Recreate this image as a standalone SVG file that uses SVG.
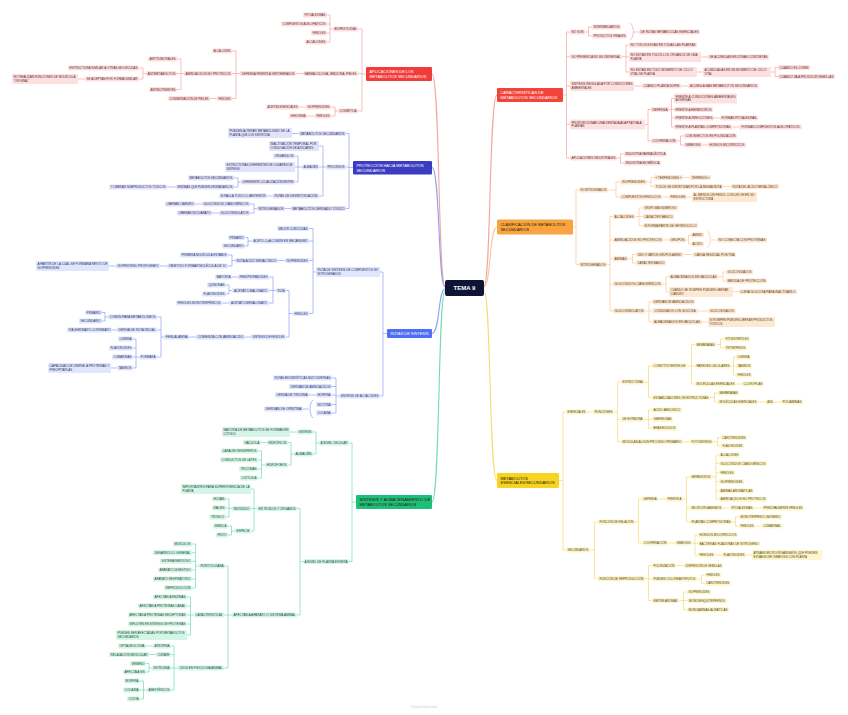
<svg xmlns="http://www.w3.org/2000/svg" width="848" height="715" viewBox="0 0 848 715">
<style>
text{font-family:"Liberation Sans",Arial,sans-serif;font-size:2.9px}
.n text{text-anchor:middle}
.n.l text{text-anchor:start}
rect{rx:1.2px}
.r rect{fill:#fde1e1}.r text{fill:#5e1f1f}
.p rect{fill:#e2e3f8}.p text{fill:#2a2a62}
.b rect{fill:#e0e6fc}.b text{fill:#22306b}
.g rect{fill:#d4f5e7}.g text{fill:#144a34}
.o rect{fill:#fde8d4}.o text{fill:#5c3a12}
.y rect{fill:#fdf5cc}.y text{fill:#4f4410}
.m text{font-size:3.9px;text-anchor:start}
.mw text{fill:#fff}
.md text{fill:#241a05}
#connectors path{fill:none;stroke-width:.7;stroke-linejoin:round}
#connectors .main{stroke-width:1.1}
.cr{stroke:#f6a3a3}.cp{stroke:#9b9ee8}.cb{stroke:#8aa2f6}.cg{stroke:#6fdcb2}.co{stroke:#fbc995}.cy{stroke:#f3dc74}
</style>
<rect x="0" y="0" width="848" height="715" fill="#ffffff"/>
<g id="connectors">
<path class="cr main" d="M445 286C438 286 440 74 432 74"/>
<path class="cp main" d="M445 287C438 287 440 167.5 432 167.5"/>
<path class="cb main" d="M445 289C438 289 440 333.5 432 333.5"/>
<path class="cg main" d="M445 291C438 291 440 502 432 502"/>
<path class="cr main" d="M484 286C491 286 489 95 497 95"/>
<path class="co main" d="M484 287C491 287 489 227 497 227"/>
<path class="cy main" d="M484 291C491 291 489 480.5 497 480.5"/>
<path class="cr" d="M366 74H362 M362 29V111 M362 29H358 M362 73.5H358 M362 111H358 M333 29H330 M330 15V42 M330 15H327 M330 24H327 M330 33H327 M330 42H327 M303 73.5H296 M240 73.5H236 M236 51V98.5 M236 51H232 M236 73.5H232 M236 98.5H232 M217 98.5H210 M184 73.5H181 M181 59V89.5 M181 59H177 M181 89.5H177 M181 73.5H177 M146 73.5H143 M143 68V79 M143 68H139 M143 79H139 M85 79H78 M338 111H335 M335 107V116 M335 107H331 M335 116H331 M306 107H299 M315 116H307"/>
<path class="cp" d="M353 167.5H349 M349 133.5V208.5 M349 133.5H346 M349 167H346 M349 208.5H346 M299 133.5H292 M326 167H323 M323 146V196 M323 146H319 M323 167H319 M323 196H319 M302 167H298 M298 156V182 M298 156H295 M298 167H295 M298 182H295 M241 182H238 M238 178V187 M238 178H234 M238 187H234 M176 187H167 M273 196H267 M291 208.5H285 M257 208.5H254 M254 204V213 M254 204H250 M254 213H250 M202 204H195 M219 213H212"/>
<path class="cb" d="M387 333.5H383 M383 272V396 M383 272H380 M383 396H380 M316 272H313 M313 228.5V313.5 M313 228.5H309 M313 241H309 M313 260.5H309 M313 313.5H309 M252 241H248 M248 237.5V246 M248 237.5H245 M248 246H245 M285 260.5H278 M235 260.5H232 M232 255V266 M232 255H228 M232 266H228 M167 266H160 M116 266H109 M293 313.5H289 M289 290.5V337 M289 290.5H286 M289 337H286 M276 290.5H273 M273 277V303 M273 277H269 M273 290.5H269 M273 303H269 M238 277H232 M232 290.5H229 M229 285V294 M229 285H226 M229 294H226 M229 303H222 M251 337H245 M196 337H189 M164 337H161 M161 317V357 M161 317H157 M161 330H157 M161 357H157 M108 317H105 M105 312.5V321 M105 312.5H102 M105 321H102 M117 330H112 M139 357H136 M136 339V368 M136 339H133 M136 348H133 M136 357H133 M136 368H133 M117 368H111 M339 396H336 M336 378V413 M336 378H332 M336 386.5H332 M336 395H332 M336 404.5H332 M336 413H332 M316 395H309 M313 400C309 403 309 415 313 418 M308.5 409H303"/>
<path class="cg" d="M356 502H352 M352 443V561.5 M352 443H349 M352 561.5H349 M319 443H316 M316 432V454 M316 432H313 M316 454H313 M297 432H290 M294 454H291 M291 442.5V465 M291 442.5H288 M291 465H288 M267 442.5H261 M265 465H261.5 M261.5 451V478 M261.5 451H258 M261.5 460H258 M261.5 469H258 M261.5 478H258 M303 561.5H300 M300 508.5V615 M300 508.5H297 M300 615H297 M257 508.5H254 M254 489V531 M254 489H251 M254 508.5H251 M254 531H251 M232 508.5H229 M229 499V517 M229 499H226 M229 508H226 M229 517H226 M235 531H231.5 M231.5 526V535 M231.5 526H228 M231.5 535H228 M232 615H228 M228 566V668 M228 566H225 M228 615H224 M228 668H224 M199 566H195.5 M195.5 544V588 M195.5 544H192 M195.5 552.7H192 M195.5 561.3H192 M195.5 570H192 M195.5 579H192 M195.5 588H192 M194 615H190.5 M190.5 597V635 M190.5 597H187 M190.5 606H187 M190.5 615H187 M190.5 624H187 M190.5 635H187 M178 668H174 M174 646V690 M174 646H171 M174 654.5H171 M174 668H171 M174 690H171 M153 646H146 M156 654.5H149 M152 668H149 M149 663.5V672 M149 663.5H146 M149 672H146 M147 690H143.5 M143.5 681V699 M143.5 681H140 M143.5 690H140 M143.5 699H140"/>
<path class="cr" d="M563 95H566.5 M566.5 32V158 M566.5 32H570 M566.5 56.7H570 M566.5 86H570 M566.5 124.5H570 M566.5 158H570 M585 32H588.5 M588.5 27V36 M588.5 27H592 M588.5 36H592 M630 23C634.5 26 634.5 37 630 40 M634 32H639 M622 56.7H626 M626 45V72 M626 45H629 M626 57H629 M626 72H629 M701 57H708 M697 72H703 M771 72H775 M775 67.5V76.5 M775 67.5H778 M775 76.5H778 M634 86H642 M681 86H688 M645 124.5H648 M648 109.5V141 M648 109.5H651 M648 141H651 M669 109.5H671.5 M671.5 98.5V127 M671.5 98.5H674 M671.5 109.5H674 M671.5 118H674 M671.5 127H674 M714 118H720 M732 127H739 M677 141H680.5 M680.5 136V145 M680.5 136H684 M680.5 145H684 M702 145H708 M617 158H620.5 M620.5 154V163 M620.5 154H624 M620.5 163H624"/>
<path class="co" d="M573 227H576 M576 190V264.5 M576 190H579 M576 264.5H579 M608 190H616 M616 182V197 M616 182H620 M616 197H620 M647 182H651 M651 177.5V186.5 M651 177.5H654 M651 186.5H654 M683 177.5H690 M723 186.5H731 M662 197H669 M687 197H692 M607 264.5H610 M610 216.5V311 M610 216.5H613 M610 240H613 M610 258.7H613 M610 284H613 M610 311H613 M635 216.5H639 M639 208V225.5 M639 208H643 M639 216.5H643 M639 225.5H643 M663 240H669 M686 240H688.5 M688.5 235V244 M688.5 235H691 M688.5 244H691 M707 231C711.5 234 711.5 245 707 248 M711 240H717 M628 258.7H632.5 M632.5 254.5V263 M632.5 254.5H636 M632.5 263H636 M683 254.5H693 M662 284H666 M666 276.7V292 M666 276.7H669 M666 292H669 M718 276.7H723 M723 272V281 M723 272H726 M723 281H726 M733 291.7H739 M645 311H649 M649 302V322 M649 302H652 M649 311H652 M649 322H652 M698 311H708 M702 322H708"/>
<path class="cy" d="M559 480.5H563 M563 412V550 M563 412H566 M563 550H566 M587 412H593 M614 412H617.5 M617.5 382V441.7 M617.5 382H621 M617.5 419.3H621 M617.5 441.7H621 M645 382H648.5 M648.5 366V397.5 M648.5 366H652 M648.5 397.5H652 M687 366H691.5 M691.5 344.5V384 M691.5 344.5H695 M691.5 366H695 M691.5 384H695 M716 344.5H720.5 M720.5 339V348 M720.5 339H724 M720.5 348H724 M731 366H733.5 M733.5 357V375 M733.5 357H736 M733.5 366H736 M733.5 375H736 M736 384H742 M710 397.5H714.5 M714.5 393V402 M714.5 393H718 M714.5 402H718 M758 402H766 M774 402H781 M644 419.3H648.5 M648.5 410V428.3 M648.5 410H652 M648.5 419.3H652 M648.5 428.3H652 M683 441.7H690 M713 441.7H717.5 M717.5 437.5V446 M717.5 437.5H721 M717.5 446H721 M590 550H594.5 M594.5 522V578.7 M594.5 522H598 M594.5 578.7H598 M635 522H638.5 M638.5 499V543 M638.5 499H642 M638.5 543H642 M658 499H666 M683 499H686.5 M686.5 477V522 M686.5 477H690 M686.5 508H690 M686.5 522H690 M712 477H716 M716 455.3V499.3 M716 455.3H719 M716 463.5H719 M716 472.5H719 M716 481.5H719 M716 490.8H719 M716 499.3H719 M723 508H730 M754 508H762 M732 522H735.5 M735.5 517V526 M735.5 517H739 M735.5 526H739 M755 526H762 M668 543H675 M692 543H695 M695 535V555 M695 535H698 M695 543.5H698 M695 555H698 M715 555H722 M746 555H752 M645 578.7H648.5 M648.5 565.5V600.5 M648.5 565.5H652 M648.5 579H652 M648.5 600.5H652 M676 565.5H684 M697 579H701.5 M701.5 575V583.3 M701.5 575H705 M701.5 583.3H705 M679 600.5H683.5 M683.5 592V609.7 M683.5 592H687 M683.5 600.5H687 M683.5 609.7H687"/>
</g>
<g id="tema9"><rect x="445" y="280" width="39" height="16" style="rx:2px" fill="#0e1433"/><text x="464.5" y="290.3" fill="#ffffff" style="font-size:6px;font-weight:bold;text-anchor:middle">TEMA 9</text></g>
<g id="aplicaciones" class="m mw"><rect x="366" y="67" width="66" height="14" fill="#f23c3c"/><text x="369.5" y="73.1">APLICACIONES DE LOS</text><text x="369.5" y="77.8">METABOLITOS SECUNDARIOS</text></g>
<g id="r1" class="n r"><rect x="333" y="26.5" width="25" height="5"/><text x="345.5" y="30" textLength="22" lengthAdjust="spacingAndGlyphs">BIOPESTICIDAS</text></g>
<g id="r2" class="n r"><rect x="303" y="71" width="55" height="5"/><text x="330.5" y="74.5" textLength="52" lengthAdjust="spacingAndGlyphs">FARMACOLOGÍA, MEDICINA, PIELES</text></g>
<g id="r3" class="n r"><rect x="338" y="108.5" width="20" height="5"/><text x="348" y="112" textLength="17" lengthAdjust="spacingAndGlyphs">COSMÉTICA</text></g>
<g id="r1a" class="n r"><rect x="303" y="12.5" width="24" height="5"/><text x="315" y="16" textLength="21" lengthAdjust="spacingAndGlyphs">FITOALEXINAS</text></g>
<g id="r1b" class="n r"><rect x="281" y="21.5" width="46" height="5"/><text x="304" y="25" textLength="43" lengthAdjust="spacingAndGlyphs">COMPUESTOS ALELOPÁTICOS</text></g>
<g id="r1c" class="n r"><rect x="311" y="30.5" width="16" height="5"/><text x="319" y="34" textLength="13" lengthAdjust="spacingAndGlyphs">FENOLES</text></g>
<g id="r1d" class="n r"><rect x="305" y="39.5" width="22" height="5"/><text x="316" y="43" textLength="19" lengthAdjust="spacingAndGlyphs">ALCALOIDES</text></g>
<g id="r2a" class="n r"><rect x="240" y="71" width="56" height="5"/><text x="268" y="74.5" textLength="53" lengthAdjust="spacingAndGlyphs">DEFENSA FRENTE A VERTEBRADOS</text></g>
<g id="r2a1" class="n r"><rect x="212" y="48.5" width="20" height="5"/><text x="222" y="52" textLength="17" lengthAdjust="spacingAndGlyphs">ALCALOIDES</text></g>
<g id="r2a2" class="n r"><rect x="184" y="71" width="48" height="5"/><text x="208" y="74.5" textLength="45" lengthAdjust="spacingAndGlyphs">AMINOÁCIDOS NO PROTEICOS</text></g>
<g id="r2a3" class="n r"><rect x="217" y="96" width="15" height="5"/><text x="224.5" y="99.5" textLength="12" lengthAdjust="spacingAndGlyphs">FENOLES</text></g>
<g id="r2a3a" class="n r"><rect x="168" y="96" width="42" height="5"/><text x="189" y="99.5" textLength="39" lengthAdjust="spacingAndGlyphs">CONSERVACIÓN DE PIELES</text></g>
<g id="r2a2a" class="n r"><rect x="148" y="56.5" width="29" height="5"/><text x="162.5" y="60" textLength="26" lengthAdjust="spacingAndGlyphs">ANTITUMORALES</text></g>
<g id="r2a2b" class="n r"><rect x="146" y="71" width="31" height="5"/><text x="161.5" y="74.5" textLength="28" lengthAdjust="spacingAndGlyphs">ANTIMETABOLITOS</text></g>
<g id="r2a2c" class="n r"><rect x="149" y="87" width="28" height="5"/><text x="163" y="90.5" textLength="25" lengthAdjust="spacingAndGlyphs">ANTINUTRIENTES</text></g>
<g id="r2a2b1" class="n r"><rect x="68" y="65.5" width="71" height="5"/><text x="103.5" y="69" textLength="68" lengthAdjust="spacingAndGlyphs">ESTRUCTURA SIMILAR A OTRAS MOLÉCULAS</text></g>
<g id="r2a2b2" class="n r"><rect x="85" y="76.5" width="54" height="5"/><text x="112" y="80" textLength="51" lengthAdjust="spacingAndGlyphs">SE ACEPTAN POR FORMA SIMILAR</text></g>
<g id="r2a2b2a" class="n l r"><rect x="12" y="74" width="66" height="10"/><text x="13.5" y="78.2" textLength="62" lengthAdjust="spacingAndGlyphs">NO REALIZAN FUNCIONES DE MOLÉCULA</text><text x="13.5" y="81.8">&quot;ORIGINAL&quot;</text></g>
<g id="r3a" class="n r"><rect x="306" y="104.5" width="25" height="5"/><text x="318.5" y="108" textLength="22" lengthAdjust="spacingAndGlyphs">ISOPRENOIDES</text></g>
<g id="r3b" class="n r"><rect x="315" y="113.5" width="16" height="5"/><text x="323" y="117" textLength="13" lengthAdjust="spacingAndGlyphs">FENOLES</text></g>
<g id="r3a1" class="n r"><rect x="266" y="104.5" width="33" height="5"/><text x="282.5" y="108" textLength="30" lengthAdjust="spacingAndGlyphs">ACEITES ESENCIALES</text></g>
<g id="r3b1" class="n r"><rect x="289" y="113.5" width="18" height="5"/><text x="298" y="117" textLength="15" lengthAdjust="spacingAndGlyphs">SHIKONINA</text></g>
<g id="proteccion" class="m mw"><rect x="353" y="161" width="79" height="13.5" fill="#3b3cc2"/><text x="356.5" y="166.8">PROTECCIÓN HACIA METABOLITOS</text><text x="356.5" y="171.5">SECUNDARIOS</text></g>
<g id="p1" class="n p"><rect x="299" y="131" width="47" height="5"/><text x="322.5" y="134.5" textLength="44" lengthAdjust="spacingAndGlyphs">METABOLITOS SECUNDARIOS</text></g>
<g id="p2" class="n p"><rect x="326" y="164.5" width="20" height="5"/><text x="336" y="168" textLength="17" lengthAdjust="spacingAndGlyphs">PROCESOS</text></g>
<g id="p3" class="n p"><rect x="291" y="206" width="55" height="5"/><text x="318.5" y="209.5" textLength="52" lengthAdjust="spacingAndGlyphs">METABOLITOS DERIVADO TÓXICO</text></g>
<g id="p1a" class="n l p"><rect x="228" y="128" width="64" height="10"/><text x="229.5" y="132.2" textLength="60" lengthAdjust="spacingAndGlyphs">PUEDEN ALTERAR METABOLISMO DE LA</text><text x="229.5" y="135.8">PLANTA QUE LOS SINTETIZA</text></g>
<g id="p2a" class="n l p"><rect x="269" y="141" width="50" height="10"/><text x="270.5" y="145.2" textLength="46" lengthAdjust="spacingAndGlyphs">INACTIVACIÓN TEMPORAL POR</text><text x="270.5" y="148.8">CONJUGACIÓN DE AZÚCARES</text></g>
<g id="p2b" class="n p"><rect x="302" y="164.5" width="17" height="5"/><text x="310.5" y="168" textLength="14" lengthAdjust="spacingAndGlyphs">ALMACÉN</text></g>
<g id="p2c" class="n p"><rect x="273" y="193.5" width="46" height="5"/><text x="296" y="197" textLength="43" lengthAdjust="spacingAndGlyphs">RUTAS DE DESINTOXICACIÓN</text></g>
<g id="p2b1" class="n p"><rect x="273" y="153.5" width="22" height="5"/><text x="284" y="157" textLength="19" lengthAdjust="spacingAndGlyphs">ORGÁNULOS</text></g>
<g id="p2b2" class="n l p"><rect x="225" y="162" width="70" height="10"/><text x="226.5" y="166.2" textLength="66" lengthAdjust="spacingAndGlyphs">ESTRUCTURAS DIFERENTES DE LUGARES DE</text><text x="226.5" y="169.8">SÍNTESIS</text></g>
<g id="p2b3" class="n p"><rect x="241" y="179.5" width="54" height="5"/><text x="268" y="183" textLength="51" lengthAdjust="spacingAndGlyphs">DIFERENTE LOCALIZACIÓN ENTRE</text></g>
<g id="p2b3a" class="n p"><rect x="188" y="175.5" width="46" height="5"/><text x="211" y="179" textLength="43" lengthAdjust="spacingAndGlyphs">METABOLITOS SECUNDARIOS</text></g>
<g id="p2b3b" class="n p"><rect x="176" y="184.5" width="58" height="5"/><text x="205" y="188" textLength="55" lengthAdjust="spacingAndGlyphs">ENZIMAS QUE PUEDEN DEGRADARLOS</text></g>
<g id="p2b3b1" class="n p"><rect x="109" y="184.5" width="58" height="5"/><text x="138" y="188" textLength="55" lengthAdjust="spacingAndGlyphs">Y LIBERAR SUBPRODUCTOS TÓXICOS</text></g>
<g id="p2c1" class="n p"><rect x="219" y="193.5" width="48" height="5"/><text x="243" y="197" textLength="45" lengthAdjust="spacingAndGlyphs">SI FALLA TODO LO ANTERIOR</text></g>
<g id="p3a" class="n p"><rect x="257" y="206" width="28" height="5"/><text x="271" y="209.5" textLength="25" lengthAdjust="spacingAndGlyphs">NITROGENADOS</text></g>
<g id="p3a1" class="n p"><rect x="202" y="201.5" width="48" height="5"/><text x="226" y="205" textLength="45" lengthAdjust="spacingAndGlyphs">GLUCÓSIDOS CIANOGÉNICOS</text></g>
<g id="p3a2" class="n p"><rect x="219" y="210.5" width="31" height="5"/><text x="234.5" y="214" textLength="28" lengthAdjust="spacingAndGlyphs">GLUCOSINOLATOS</text></g>
<g id="p3a1a" class="n p"><rect x="165" y="201.5" width="30" height="5"/><text x="180" y="205" textLength="27" lengthAdjust="spacingAndGlyphs">LIBERAN CIANURO</text></g>
<g id="p3a2a" class="n p"><rect x="177" y="210.5" width="35" height="5"/><text x="194.5" y="214" textLength="32" lengthAdjust="spacingAndGlyphs">LIBERAN ISOCIANATO</text></g>
<g id="rutas" class="m mw"><rect x="387" y="329" width="45" height="9" fill="#4d6ef5"/><text x="409.5" y="335" style="text-anchor:middle">RUTAS DE SÍNTESIS</text></g>
<g id="b1" class="n l b"><rect x="316" y="267" width="64" height="10"/><text x="317.5" y="271.2" textLength="61" lengthAdjust="spacingAndGlyphs">RUTA DE SÍNTESIS DE COMPUESTOS NO</text><text x="317.5" y="274.8">NITROGENADOS</text></g>
<g id="b2" class="n b"><rect x="339" y="393.5" width="41" height="5"/><text x="359.5" y="397" textLength="38" lengthAdjust="spacingAndGlyphs">SÍNTESIS DE ALCALOIDES</text></g>
<g id="b1a" class="n b"><rect x="277" y="226" width="32" height="5"/><text x="293" y="229.5" textLength="29" lengthAdjust="spacingAndGlyphs">MEJOR CONOCIDAS</text></g>
<g id="b1b" class="n b"><rect x="252" y="238.5" width="57" height="5"/><text x="280.5" y="242" textLength="54" lengthAdjust="spacingAndGlyphs">ACETIL-CoA COMÚN EN MECANISMO</text></g>
<g id="b1c" class="n b"><rect x="285" y="258" width="24" height="5"/><text x="297" y="261.5" textLength="21" lengthAdjust="spacingAndGlyphs">ISOPRENOIDES</text></g>
<g id="b1d" class="n b"><rect x="293" y="311" width="16" height="5"/><text x="301" y="314.5" textLength="13" lengthAdjust="spacingAndGlyphs">FENOLES</text></g>
<g id="b1b1" class="n b"><rect x="228" y="235" width="17" height="5"/><text x="236.5" y="238.5" textLength="14" lengthAdjust="spacingAndGlyphs">PRIMARIO</text></g>
<g id="b1b2" class="n b"><rect x="222" y="243.5" width="23" height="5"/><text x="233.5" y="247" textLength="20" lengthAdjust="spacingAndGlyphs">SECUNDARIO</text></g>
<g id="b1c1" class="n b"><rect x="235" y="258" width="43" height="5"/><text x="256.5" y="261.5" textLength="40" lengthAdjust="spacingAndGlyphs">RUTA ÁCIDO MEVALÓNICO</text></g>
<g id="b1c1a" class="n b"><rect x="180" y="252.5" width="48" height="5"/><text x="204" y="256" textLength="45" lengthAdjust="spacingAndGlyphs">PRIMERA MOLÉCULA ESTABLE</text></g>
<g id="b1c1b" class="n b"><rect x="167" y="263.5" width="61" height="5"/><text x="197.5" y="267" textLength="58" lengthAdjust="spacingAndGlyphs">OBJETIVO FORMAR MOLÉCULA DE 5C</text></g>
<g id="b1c1b1" class="n b"><rect x="116" y="263.5" width="44" height="5"/><text x="138" y="267" textLength="41" lengthAdjust="spacingAndGlyphs">ISOPENTENIL PIROFOSFATO</text></g>
<g id="b1c1b1a" class="n l b"><rect x="36" y="261" width="73" height="10"/><text x="37.5" y="265.2" textLength="70" lengthAdjust="spacingAndGlyphs">A PARTIR DE LA CUAL SE FORMARÁ RESTO DE</text><text x="37.5" y="268.8">ISOPRENOIDES</text></g>
<g id="b1d1" class="n b"><rect x="276" y="288" width="10" height="5"/><text x="281" y="291.5" textLength="7" lengthAdjust="spacingAndGlyphs">RUTA</text></g>
<g id="b1d2" class="n b"><rect x="251" y="334.5" width="35" height="5"/><text x="268.5" y="338" textLength="32" lengthAdjust="spacingAndGlyphs">SÍNTESIS DE FENOLES</text></g>
<g id="b1d1a" class="n b"><rect x="238" y="274.5" width="31" height="5"/><text x="253.5" y="278" textLength="28" lengthAdjust="spacingAndGlyphs">FENILPROPANOIDES</text></g>
<g id="b1d1b" class="n b"><rect x="232" y="288" width="37" height="5"/><text x="250.5" y="291.5" textLength="33" lengthAdjust="spacingAndGlyphs">ACETATO-MALONATO</text></g>
<g id="b1d1c" class="n b"><rect x="229" y="300.5" width="40" height="5"/><text x="249" y="304" textLength="36" lengthAdjust="spacingAndGlyphs">ACETATO-MEVALONATO</text></g>
<g id="b1d1a1" class="n b"><rect x="215" y="274.5" width="17" height="5"/><text x="223.5" y="278" textLength="14" lengthAdjust="spacingAndGlyphs">MAYORÍA</text></g>
<g id="b1d1b1" class="n b"><rect x="207" y="282.5" width="19" height="5"/><text x="216.5" y="286" textLength="16" lengthAdjust="spacingAndGlyphs">QUINONAS</text></g>
<g id="b1d1b2" class="n b"><rect x="202" y="291.5" width="24" height="5"/><text x="214" y="295" textLength="21" lengthAdjust="spacingAndGlyphs">FLAVONOIDES</text></g>
<g id="b1d1c1" class="n b"><rect x="176" y="300.5" width="46" height="5"/><text x="199" y="304" textLength="43" lengthAdjust="spacingAndGlyphs">FENOLES MONOTERPÉNICOS</text></g>
<g id="b1d2a" class="n b"><rect x="196" y="334.5" width="49" height="5"/><text x="220.5" y="338" textLength="46" lengthAdjust="spacingAndGlyphs">COMIENZA CON AMINOÁCIDO</text></g>
<g id="b1d2a1" class="n b"><rect x="164" y="334.5" width="25" height="5"/><text x="176.5" y="338" textLength="22" lengthAdjust="spacingAndGlyphs">FENILALANINA</text></g>
<g id="f1" class="n b"><rect x="108" y="314.5" width="49" height="5"/><text x="132.5" y="318" textLength="46" lengthAdjust="spacingAndGlyphs">COMÚN PARA METABOLISMOS</text></g>
<g id="f2" class="n b"><rect x="117" y="327.5" width="40" height="5"/><text x="137" y="331" textLength="37" lengthAdjust="spacingAndGlyphs">DERIVA DE RUTA INICIAL</text></g>
<g id="f3" class="n b"><rect x="139" y="354.5" width="18" height="5"/><text x="148" y="358" textLength="15" lengthAdjust="spacingAndGlyphs">FORMARÁ</text></g>
<g id="f1a" class="n b"><rect x="85" y="310" width="17" height="5"/><text x="93.5" y="313.5" textLength="14" lengthAdjust="spacingAndGlyphs">PRIMARIO</text></g>
<g id="f1b" class="n b"><rect x="79" y="318.5" width="23" height="5"/><text x="90.5" y="322" textLength="20" lengthAdjust="spacingAndGlyphs">SECUNDARIO</text></g>
<g id="f2a" class="n b"><rect x="67" y="327.5" width="45" height="5"/><text x="89.5" y="331" textLength="42" lengthAdjust="spacingAndGlyphs">VÍA SHIKIMATO-CORISMATO</text></g>
<g id="f3a" class="n b"><rect x="118" y="336.5" width="15" height="5"/><text x="125.5" y="340" textLength="12" lengthAdjust="spacingAndGlyphs">LIGNINA</text></g>
<g id="f3b" class="n b"><rect x="109" y="345.5" width="24" height="5"/><text x="121" y="349" textLength="21" lengthAdjust="spacingAndGlyphs">FLAVONOIDES</text></g>
<g id="f3c" class="n b"><rect x="112" y="354.5" width="21" height="5"/><text x="122.5" y="358" textLength="18" lengthAdjust="spacingAndGlyphs">CUMARINAS</text></g>
<g id="f3d" class="n b"><rect x="117" y="365.5" width="16" height="5"/><text x="125" y="369" textLength="13" lengthAdjust="spacingAndGlyphs">TANINOS</text></g>
<g id="f3d1" class="n l b"><rect x="48" y="363" width="63" height="10"/><text x="49.5" y="367.2" textLength="60" lengthAdjust="spacingAndGlyphs">CAPACIDAD DE UNIRSE A PROTEÍNAS Y</text><text x="49.5" y="370.8">PRECIPITARLAS</text></g>
<g id="b2a" class="n b"><rect x="273" y="375.5" width="59" height="5"/><text x="302.5" y="379" textLength="56" lengthAdjust="spacingAndGlyphs">RUTAS BIOSINTÉTICAS MUY DIVERSAS</text></g>
<g id="b2b" class="n b"><rect x="289" y="384" width="43" height="5"/><text x="310.5" y="387.5" textLength="40" lengthAdjust="spacingAndGlyphs">DERIVAN DE AMINOÁCIDOS</text></g>
<g id="b2c" class="n b"><rect x="316" y="392.5" width="16" height="5"/><text x="324" y="396" textLength="13" lengthAdjust="spacingAndGlyphs">MORFINA</text></g>
<g id="b2d" class="n b"><rect x="316" y="402" width="16" height="5"/><text x="324" y="405.5" textLength="13" lengthAdjust="spacingAndGlyphs">NICOTINA</text></g>
<g id="b2e" class="n b"><rect x="316" y="410.5" width="16" height="5"/><text x="324" y="414" textLength="13" lengthAdjust="spacingAndGlyphs">COCAÍNA</text></g>
<g id="b2c1" class="n b"><rect x="275" y="392.5" width="34" height="5"/><text x="292" y="396" textLength="31" lengthAdjust="spacingAndGlyphs">DERIVA DE TIROSINA</text></g>
<g id="b2x" class="n b"><rect x="264" y="406.5" width="39" height="5"/><text x="283.5" y="410" textLength="36" lengthAdjust="spacingAndGlyphs">DERIVAN DE ORNITINA</text></g>
<g id="sintesis" class="m md"><rect x="356" y="495" width="76" height="14" fill="#1fbf7a"/><text x="359.5" y="501.1" textLength="71" lengthAdjust="spacingAndGlyphs">SÍNTESIS Y ALMACENAMIENTO DE</text><text x="359.5" y="505.8">METABOLITOS SECUNDARIOS</text></g>
<g id="g1" class="n g"><rect x="319" y="440.5" width="30" height="5"/><text x="334" y="444" textLength="27" lengthAdjust="spacingAndGlyphs">A NIVEL CELULAR</text></g>
<g id="g2" class="n g"><rect x="303" y="559" width="46" height="5"/><text x="326" y="562.5" textLength="43" lengthAdjust="spacingAndGlyphs">A NIVEL DE PLANTA ENTERA</text></g>
<g id="g1a" class="n g"><rect x="297" y="429.5" width="16" height="5"/><text x="305" y="433" textLength="13" lengthAdjust="spacingAndGlyphs">SÍNTESIS</text></g>
<g id="g1b" class="n g"><rect x="294" y="451.5" width="19" height="5"/><text x="303.5" y="455" textLength="16" lengthAdjust="spacingAndGlyphs">ALMACÉN</text></g>
<g id="g1a1" class="n l g"><rect x="222" y="427" width="68" height="10"/><text x="223.5" y="431.2" textLength="65" lengthAdjust="spacingAndGlyphs">MAYORÍA DE METABOLITOS SE FORMAN EN</text><text x="223.5" y="434.8">CITOSOL</text></g>
<g id="g1b1" class="n g"><rect x="267" y="440" width="21" height="5"/><text x="277.5" y="443.5" textLength="18" lengthAdjust="spacingAndGlyphs">HIDRÓFILOS</text></g>
<g id="g1b2" class="n g"><rect x="265" y="462.5" width="23" height="5"/><text x="276.5" y="466" textLength="20" lengthAdjust="spacingAndGlyphs">HIDRÓFOBOS</text></g>
<g id="g1b1a" class="n g"><rect x="243" y="440" width="18" height="5"/><text x="252" y="443.5" textLength="15" lengthAdjust="spacingAndGlyphs">VACUOLA</text></g>
<g id="g1b2a" class="n g"><rect x="221" y="448.5" width="37" height="5"/><text x="239.5" y="452" textLength="34" lengthAdjust="spacingAndGlyphs">CANALES RESINÍFEROS</text></g>
<g id="g1b2b" class="n g"><rect x="220" y="457.5" width="38" height="5"/><text x="239" y="461" textLength="35" lengthAdjust="spacingAndGlyphs">CONDUCTOS DE LÁTEX</text></g>
<g id="g1b2c" class="n g"><rect x="239" y="466.5" width="19" height="5"/><text x="248.5" y="470" textLength="16" lengthAdjust="spacingAndGlyphs">TRICOMAS</text></g>
<g id="g1b2d" class="n g"><rect x="240" y="475.5" width="18" height="5"/><text x="249" y="479" textLength="15" lengthAdjust="spacingAndGlyphs">CUTÍCULA</text></g>
<g id="g2a" class="n g"><rect x="257" y="506" width="40" height="5"/><text x="277" y="509.5" textLength="37" lengthAdjust="spacingAndGlyphs">EN TEJIDOS Y ÓRGANOS</text></g>
<g id="g2b" class="n g"><rect x="232" y="612.5" width="65" height="5"/><text x="264.5" y="616" textLength="62" lengthAdjust="spacingAndGlyphs">AFECTAN A APARATO O SISTEMA ANIMAL</text></g>
<g id="g2a1" class="n l g"><rect x="181" y="484" width="70" height="10"/><text x="182.5" y="488.2" textLength="67" lengthAdjust="spacingAndGlyphs">IMPORTANTES PARA SUPERVIVENCIA DE LA</text><text x="182.5" y="491.8">PLANTA</text></g>
<g id="g2a2" class="n g"><rect x="232" y="506" width="19" height="5"/><text x="241.5" y="509.5" textLength="16" lengthAdjust="spacingAndGlyphs">INDIVIDUO</text></g>
<g id="g2a3" class="n g"><rect x="235" y="528.5" width="16" height="5"/><text x="243" y="532" textLength="13" lengthAdjust="spacingAndGlyphs">ESPECIE</text></g>
<g id="g2a2a" class="n g"><rect x="212" y="496.5" width="14" height="5"/><text x="219" y="500" textLength="11" lengthAdjust="spacingAndGlyphs">HOJAS</text></g>
<g id="g2a2b" class="n g"><rect x="212" y="505.5" width="14" height="5"/><text x="219" y="509" textLength="11" lengthAdjust="spacingAndGlyphs">RAÍCES</text></g>
<g id="g2a2c" class="n g"><rect x="209" y="514.5" width="17" height="5"/><text x="217.5" y="518" textLength="13" lengthAdjust="spacingAndGlyphs">TRONCO</text></g>
<g id="g2a3a" class="n g"><rect x="213" y="523.5" width="15" height="5"/><text x="220.5" y="527" textLength="12" lengthAdjust="spacingAndGlyphs">SEMILLA</text></g>
<g id="g2a3b" class="n g"><rect x="216" y="532.5" width="12" height="5"/><text x="222" y="536" textLength="9" lengthAdjust="spacingAndGlyphs">FRUTO</text></g>
<g id="g2b1" class="n g"><rect x="199" y="563.5" width="26" height="5"/><text x="212" y="567" textLength="23" lengthAdjust="spacingAndGlyphs">PUNTOS DIANA</text></g>
<g id="g2b2" class="n g"><rect x="194" y="612.5" width="30" height="5"/><text x="209" y="616" textLength="27" lengthAdjust="spacingAndGlyphs">CARACTERÍSTICAS</text></g>
<g id="g2b3" class="n g"><rect x="178" y="665.5" width="46" height="5"/><text x="201" y="669" textLength="43" lengthAdjust="spacingAndGlyphs">USOS EN FISIOLOGÍA ANIMAL</text></g>
<g id="pd1" class="n g"><rect x="173" y="541.5" width="19" height="5"/><text x="182.5" y="545" textLength="16" lengthAdjust="spacingAndGlyphs">MÚSCULOS</text></g>
<g id="pd2" class="n g"><rect x="153" y="550.2" width="39" height="5"/><text x="172.5" y="553.7" textLength="36" lengthAdjust="spacingAndGlyphs">DESARROLLO GENERAL</text></g>
<g id="pd3" class="n g"><rect x="160" y="558.8" width="32" height="5"/><text x="176" y="562.3" textLength="29" lengthAdjust="spacingAndGlyphs">SISTEMA NERVIOSO</text></g>
<g id="pd4" class="n g"><rect x="158" y="567.5" width="34" height="5"/><text x="175" y="571" textLength="31" lengthAdjust="spacingAndGlyphs">APARATO DIGESTIVO</text></g>
<g id="pd5" class="n g"><rect x="153" y="576.5" width="39" height="5"/><text x="172.5" y="580" textLength="36" lengthAdjust="spacingAndGlyphs">APARATO RESPIRATORIO</text></g>
<g id="pd6" class="n g"><rect x="164" y="585.5" width="28" height="5"/><text x="178" y="589" textLength="25" lengthAdjust="spacingAndGlyphs">REPRODUCCIÓN</text></g>
<g id="ca1" class="n g"><rect x="153" y="594.5" width="34" height="5"/><text x="170" y="598" textLength="31" lengthAdjust="spacingAndGlyphs">AFECTAN A ENZIMAS</text></g>
<g id="ca2" class="n g"><rect x="138" y="603.5" width="49" height="5"/><text x="162.5" y="607" textLength="46" lengthAdjust="spacingAndGlyphs">AFECTAN A PROTEÍNAS CANAL</text></g>
<g id="ca3" class="n g"><rect x="128" y="612.5" width="59" height="5"/><text x="157.5" y="616" textLength="56" lengthAdjust="spacingAndGlyphs">AFECTAN A PROTEÍNAS RECEPTORAS</text></g>
<g id="ca4" class="n g"><rect x="128" y="621.5" width="59" height="5"/><text x="157.5" y="625" textLength="56" lengthAdjust="spacingAndGlyphs">INFLUYEN EN SÍNTESIS DE PROTEÍNAS</text></g>
<g id="ca5" class="n l g"><rect x="116" y="630" width="71" height="10"/><text x="117.5" y="634.2" textLength="67" lengthAdjust="spacingAndGlyphs">PUEDEN SER AFECTADAS POR METABOLITOS</text><text x="117.5" y="637.8">SECUNDARIOS</text></g>
<g id="us1" class="n g"><rect x="153" y="643.5" width="18" height="5"/><text x="162" y="647" textLength="15" lengthAdjust="spacingAndGlyphs">ATROPINA</text></g>
<g id="us2" class="n g"><rect x="156" y="652" width="15" height="5"/><text x="163.5" y="655.5" textLength="12" lengthAdjust="spacingAndGlyphs">CURARE</text></g>
<g id="us3" class="n g"><rect x="152" y="665.5" width="19" height="5"/><text x="161.5" y="669" textLength="16" lengthAdjust="spacingAndGlyphs">ESTRICNINA</text></g>
<g id="us4" class="n g"><rect x="147" y="687.5" width="24" height="5"/><text x="159" y="691" textLength="21" lengthAdjust="spacingAndGlyphs">ANESTÉSICOS</text></g>
<g id="u1" class="n g"><rect x="118" y="643.5" width="28" height="5"/><text x="132" y="647" textLength="25" lengthAdjust="spacingAndGlyphs">OFTALMOLOGÍA</text></g>
<g id="u2" class="n g"><rect x="109" y="652" width="40" height="5"/><text x="129" y="655.5" textLength="37" lengthAdjust="spacingAndGlyphs">RELAJACIÓN MUSCULAR</text></g>
<g id="u3" class="n g"><rect x="130" y="661" width="16" height="5"/><text x="138" y="664.5" textLength="13" lengthAdjust="spacingAndGlyphs">VENENO</text></g>
<g id="u4" class="n g"><rect x="123" y="669.5" width="23" height="5"/><text x="134.5" y="673" textLength="20" lengthAdjust="spacingAndGlyphs">AFECTA A SN</text></g>
<g id="u5" class="n g"><rect x="124" y="678.5" width="16" height="5"/><text x="132" y="682" textLength="13" lengthAdjust="spacingAndGlyphs">MORFINA</text></g>
<g id="u6" class="n g"><rect x="123" y="687.5" width="17" height="5"/><text x="131.5" y="691" textLength="14" lengthAdjust="spacingAndGlyphs">COCAÍNA</text></g>
<g id="u7" class="n g"><rect x="127" y="696.5" width="13" height="5"/><text x="133.5" y="700" textLength="10" lengthAdjust="spacingAndGlyphs">CICUTA</text></g>
<g id="caracteristicas" class="m mw"><rect x="497" y="88" width="66" height="14" fill="#f2443a"/><text x="500.5" y="94.1">CARACTERÍSTICAS DE</text><text x="500.5" y="98.8">METABOLITOS SECUNDARIOS</text></g>
<g id="q1" class="n r"><rect x="570" y="29.5" width="15" height="5"/><text x="577.5" y="33" textLength="12" lengthAdjust="spacingAndGlyphs">NO SON</text></g>
<g id="q2" class="n r"><rect x="570" y="54.2" width="52" height="5"/><text x="596" y="57.7" textLength="49" lengthAdjust="spacingAndGlyphs">SU PRESENCIA NO ES UNIVERSAL</text></g>
<g id="q3" class="n l r"><rect x="570" y="81" width="64" height="10"/><text x="571.5" y="85.2" textLength="61" lengthAdjust="spacingAndGlyphs">SÍNTESIS REGULADA POR CONDICIONES</text><text x="571.5" y="88.8">AMBIENTALES</text></g>
<g id="q4" class="n l r"><rect x="570" y="119.5" width="75" height="10"/><text x="571.5" y="123.7" textLength="70" lengthAdjust="spacingAndGlyphs">PROPORCIONAN UNA VENTAJA ADAPTATIVA A</text><text x="571.5" y="127.3">PLANTAS</text></g>
<g id="q5" class="n r"><rect x="570" y="155.5" width="47" height="5"/><text x="593.5" y="159" textLength="44" lengthAdjust="spacingAndGlyphs">APLICACIONES INDUSTRIALES</text></g>
<g id="q1a" class="n r"><rect x="592" y="24.5" width="29" height="5"/><text x="606.5" y="28" textLength="26" lengthAdjust="spacingAndGlyphs">INTERMEDIARIOS</text></g>
<g id="q1b" class="n r"><rect x="592" y="33.5" width="35" height="5"/><text x="609.5" y="37" textLength="32" lengthAdjust="spacingAndGlyphs">PRODUCTOS FINALES</text></g>
<g id="q1x" class="n r"><rect x="639" y="29.5" width="61" height="5"/><text x="669.5" y="33" textLength="58" lengthAdjust="spacingAndGlyphs">DE RUTAS METABÓLICAS ESENCIALES</text></g>
<g id="q2a" class="n r"><rect x="629" y="42.5" width="68" height="5"/><text x="663" y="46" textLength="65" lengthAdjust="spacingAndGlyphs">NO TODOS ESTÁN EN TODAS LAS PLANTAS</text></g>
<g id="q2b" class="n l r"><rect x="629" y="52" width="72" height="10"/><text x="630.5" y="56.2" textLength="67" lengthAdjust="spacingAndGlyphs">NO ESTÁN EN TODOS LOS ÓRGANOS DE UNA</text><text x="630.5" y="59.8">PLANTA</text></g>
<g id="q2c" class="n l r"><rect x="629" y="67" width="68" height="10"/><text x="630.5" y="71.2" textLength="62" lengthAdjust="spacingAndGlyphs">NO ESTÁN EN TODO MOMENTO DE CICLO</text><text x="630.5" y="74.8">VITAL DE PLANTA</text></g>
<g id="q2b1" class="n r"><rect x="708" y="54.5" width="61" height="5"/><text x="738.5" y="58" textLength="58" lengthAdjust="spacingAndGlyphs">SE ACUMULAN EN ZONAS CONCRETAS</text></g>
<g id="q2c1" class="n l r"><rect x="703" y="67" width="68" height="10"/><text x="704.5" y="71.2" textLength="62" lengthAdjust="spacingAndGlyphs">ACUMULADAS EN UN MOMENTO DE CICLO</text><text x="704.5" y="74.8">VITAL</text></g>
<g id="q2c1a" class="n r"><rect x="778" y="65" width="32" height="5"/><text x="794" y="68.5" textLength="29" lengthAdjust="spacingAndGlyphs">CUANDO ES JOVEN</text></g>
<g id="q2c1b" class="n r"><rect x="778" y="74" width="57" height="5"/><text x="806.5" y="77.5" textLength="54" lengthAdjust="spacingAndGlyphs">CUANDO VA A PRODUCIR SEMILLAS</text></g>
<g id="q3a" class="n r"><rect x="642" y="83.5" width="39" height="5"/><text x="661.5" y="87" textLength="36" lengthAdjust="spacingAndGlyphs">CUANDO PLANTA SUFRE</text></g>
<g id="q3a1" class="n r"><rect x="688" y="83.5" width="71" height="5"/><text x="723.5" y="87" textLength="67" lengthAdjust="spacingAndGlyphs">ACUMULA MÁS METABOLITOS SECUNDARIOS</text></g>
<g id="q4a" class="n r"><rect x="651" y="107" width="18" height="5"/><text x="660" y="110.5" textLength="15" lengthAdjust="spacingAndGlyphs">DEFENSA</text></g>
<g id="q4b" class="n r"><rect x="651" y="138.5" width="26" height="5"/><text x="664" y="142" textLength="23" lengthAdjust="spacingAndGlyphs">COOPERACIÓN</text></g>
<g id="q4a1" class="n l r"><rect x="674" y="93.5" width="63" height="10"/><text x="675.5" y="97.7" textLength="60" lengthAdjust="spacingAndGlyphs">FRENTE A CONDICIONES AMBIENTALES</text><text x="675.5" y="101.3">ADVERSAS</text></g>
<g id="q4a2" class="n r"><rect x="674" y="107" width="39" height="5"/><text x="693.5" y="110.5" textLength="36" lengthAdjust="spacingAndGlyphs">FRENTE A HERBÍVOROS</text></g>
<g id="q4a3" class="n r"><rect x="674" y="115.5" width="40" height="5"/><text x="694" y="119" textLength="37" lengthAdjust="spacingAndGlyphs">FRENTE A INFECCIONES</text></g>
<g id="q4a4" class="n r"><rect x="674" y="124.5" width="58" height="5"/><text x="703" y="128" textLength="55" lengthAdjust="spacingAndGlyphs">FRENTE A PLANTAS COMPETIDORAS</text></g>
<g id="q4a3a" class="n r"><rect x="720" y="115.5" width="38" height="5"/><text x="739" y="119" textLength="35" lengthAdjust="spacingAndGlyphs">FORMAN FITOALEXINAS</text></g>
<g id="q4a4a" class="n r"><rect x="739" y="124.5" width="63" height="5"/><text x="770.5" y="128" textLength="58" lengthAdjust="spacingAndGlyphs">FORMAN COMPUESTOS ALELOPÁTICOS</text></g>
<g id="q4b1" class="n r"><rect x="684" y="133.5" width="53" height="5"/><text x="710.5" y="137" textLength="50" lengthAdjust="spacingAndGlyphs">CON INSECTOS EN POLINIZACIÓN</text></g>
<g id="q4b2" class="n r"><rect x="684" y="142.5" width="18" height="5"/><text x="693" y="146" textLength="15" lengthAdjust="spacingAndGlyphs">SIMBIOSIS</text></g>
<g id="q4b2a" class="n r"><rect x="708" y="142.5" width="38" height="5"/><text x="727" y="146" textLength="35" lengthAdjust="spacingAndGlyphs">HONGOS MICORRÍCICOS</text></g>
<g id="q5a" class="n r"><rect x="624" y="151.5" width="43" height="5"/><text x="645.5" y="155" textLength="40" lengthAdjust="spacingAndGlyphs">INDUSTRIA FARMACÉUTICA</text></g>
<g id="q5b" class="n r"><rect x="624" y="160.5" width="37" height="5"/><text x="642.5" y="164" textLength="34" lengthAdjust="spacingAndGlyphs">INDUSTRIA BIOMÉDICA</text></g>
<g id="clasificacion" class="m md"><rect x="497" y="219.5" width="76" height="15" fill="#f9a441"/><text x="500.5" y="226.1">CLASIFICACIÓN DE METABOLITOS</text><text x="500.5" y="230.8">SECUNDARIOS</text></g>
<g id="o1" class="n o"><rect x="579" y="187.5" width="29" height="5"/><text x="593.5" y="191" textLength="26" lengthAdjust="spacingAndGlyphs">NO NITROGENADOS</text></g>
<g id="o2" class="n o"><rect x="579" y="262" width="28" height="5"/><text x="593" y="265.5" textLength="25" lengthAdjust="spacingAndGlyphs">NITROGENADOS</text></g>
<g id="o1a" class="n o"><rect x="620" y="179.5" width="27" height="5"/><text x="633.5" y="183" textLength="23" lengthAdjust="spacingAndGlyphs">ISOPRENOIDES</text></g>
<g id="o1b" class="n o"><rect x="620" y="194.5" width="42" height="5"/><text x="641" y="198" textLength="39" lengthAdjust="spacingAndGlyphs">COMPUESTOS FENÓLICOS</text></g>
<g id="o1a1" class="n o"><rect x="654" y="175" width="29" height="5"/><text x="668.5" y="178.5" textLength="26" lengthAdjust="spacingAndGlyphs">« TERPENOIDES »</text></g>
<g id="o1a1a" class="n o"><rect x="690" y="175" width="21" height="5"/><text x="700.5" y="178.5" textLength="18" lengthAdjust="spacingAndGlyphs">TERPENOS »</text></g>
<g id="o1a2" class="n o"><rect x="654" y="184" width="69" height="5"/><text x="688.5" y="187.5" textLength="66" lengthAdjust="spacingAndGlyphs">TODOS SE SINTETIZAN POR LA MISMA RUTA</text></g>
<g id="o1a2a" class="n o"><rect x="731" y="184" width="48" height="5"/><text x="755" y="187.5" textLength="45" lengthAdjust="spacingAndGlyphs">RUTA DEL ÁCIDO MEVALÓNICO</text></g>
<g id="o1b1" class="n o"><rect x="669" y="194.5" width="18" height="5"/><text x="678" y="198" textLength="15" lengthAdjust="spacingAndGlyphs">FENOLES</text></g>
<g id="o1b1a" class="n l o"><rect x="692" y="192" width="65" height="10"/><text x="693.5" y="196.2" textLength="61" lengthAdjust="spacingAndGlyphs">AL MENOS UN FENOL CON UN OH EN SU</text><text x="693.5" y="199.8">ESTRUCTURA</text></g>
<g id="o2a" class="n o"><rect x="613" y="214" width="22" height="5"/><text x="624" y="217.5" textLength="19" lengthAdjust="spacingAndGlyphs">ALCALOIDES</text></g>
<g id="o2b" class="n o"><rect x="613" y="237.5" width="50" height="5"/><text x="638" y="241" textLength="47" lengthAdjust="spacingAndGlyphs">AMINOÁCIDOS NO PROTEICOS</text></g>
<g id="o2c" class="n o"><rect x="613" y="256.2" width="15" height="5"/><text x="620.5" y="259.7" textLength="12" lengthAdjust="spacingAndGlyphs">AMINAS</text></g>
<g id="o2d" class="n o"><rect x="613" y="281.5" width="49" height="5"/><text x="637.5" y="285" textLength="46" lengthAdjust="spacingAndGlyphs">GLUCÓSIDOS CIANOGÉNICOS</text></g>
<g id="o2e" class="n o"><rect x="613" y="308.5" width="32" height="5"/><text x="629" y="312" textLength="29" lengthAdjust="spacingAndGlyphs">GLUCOSINOLATOS</text></g>
<g id="o2a1" class="n o"><rect x="643" y="205.5" width="35" height="5"/><text x="660.5" y="209" textLength="32" lengthAdjust="spacingAndGlyphs">GRUPO MÁS NUMEROSO</text></g>
<g id="o2a2" class="n o"><rect x="643" y="214" width="31" height="5"/><text x="658.5" y="217.5" textLength="28" lengthAdjust="spacingAndGlyphs">CARÁCTER BÁSICO</text></g>
<g id="o2a3" class="n o"><rect x="643" y="223" width="55" height="5"/><text x="670.5" y="226.5" textLength="52" lengthAdjust="spacingAndGlyphs">N FORMA PARTE DE HETEROCICLO</text></g>
<g id="o2b1" class="n o"><rect x="669" y="237.5" width="17" height="5"/><text x="677.5" y="241" textLength="14" lengthAdjust="spacingAndGlyphs">GRUPOS</text></g>
<g id="o2b1a" class="n o"><rect x="691" y="232.5" width="13" height="5"/><text x="697.5" y="236" textLength="10" lengthAdjust="spacingAndGlyphs">AMINO</text></g>
<g id="o2b1b" class="n o"><rect x="691" y="241.5" width="13" height="5"/><text x="697.5" y="245" textLength="10" lengthAdjust="spacingAndGlyphs">ÁCIDO</text></g>
<g id="o2bx" class="n o"><rect x="717" y="237.5" width="50" height="5"/><text x="742" y="241" textLength="47" lengthAdjust="spacingAndGlyphs">NO CONECTA CON PROTEÍNAS</text></g>
<g id="o2c1" class="n o"><rect x="636" y="252" width="47" height="5"/><text x="659.5" y="255.5" textLength="44" lengthAdjust="spacingAndGlyphs">UNO O VARIOS GRUPOS AMINO</text></g>
<g id="o2c2" class="n o"><rect x="636" y="260.5" width="30" height="5"/><text x="651" y="264" textLength="27" lengthAdjust="spacingAndGlyphs">CARÁCTER BÁSICO</text></g>
<g id="o2c1a" class="n o"><rect x="693" y="252" width="43" height="5"/><text x="714.5" y="255.5" textLength="40" lengthAdjust="spacingAndGlyphs">CARGA RESIDUAL POSITIVA</text></g>
<g id="o2d1" class="n o"><rect x="669" y="274.2" width="49" height="5"/><text x="693.5" y="277.7" textLength="46" lengthAdjust="spacingAndGlyphs">ALMACENADOS EN VACUOLAS</text></g>
<g id="o2d2" class="n l o"><rect x="669" y="287" width="64" height="10"/><text x="670.5" y="291.2" textLength="58" lengthAdjust="spacingAndGlyphs">CUANDO SE ROMPEN PUEDEN LIBERAR</text><text x="670.5" y="294.8">CIANURO</text></g>
<g id="o2d1a" class="n o"><rect x="726" y="269.5" width="27" height="5"/><text x="739.5" y="273" textLength="24" lengthAdjust="spacingAndGlyphs">GLUCOSIDADOS</text></g>
<g id="o2d1b" class="n o"><rect x="726" y="278.5" width="41" height="5"/><text x="746.5" y="282" textLength="38" lengthAdjust="spacingAndGlyphs">MEDIDA DE PROTECCIÓN</text></g>
<g id="o2d2a" class="n o"><rect x="739" y="289.2" width="58" height="5"/><text x="768" y="292.7" textLength="55" lengthAdjust="spacingAndGlyphs">LLEVA GLUCOSA PARA INACTIVARLO</text></g>
<g id="o2e1" class="n o"><rect x="652" y="299.5" width="43" height="5"/><text x="673.5" y="303" textLength="40" lengthAdjust="spacingAndGlyphs">DERIVAN DE AMINOÁCIDOS</text></g>
<g id="o2e2" class="n o"><rect x="652" y="308.5" width="46" height="5"/><text x="675" y="312" textLength="41" lengthAdjust="spacingAndGlyphs">CONJUGADOS CON GLUCOSA</text></g>
<g id="o2e3" class="n o"><rect x="652" y="319.5" width="50" height="5"/><text x="677" y="323" textLength="46" lengthAdjust="spacingAndGlyphs">ALMACENADOS EN VACUOLAS</text></g>
<g id="o2e2a" class="n o"><rect x="708" y="308.5" width="28" height="5"/><text x="722" y="312" textLength="24" lengthAdjust="spacingAndGlyphs">GLUCOSIDADOS</text></g>
<g id="o2e3a" class="n l o"><rect x="708" y="317" width="67" height="10"/><text x="709.5" y="321.2" textLength="63" lengthAdjust="spacingAndGlyphs">SI ROMPEN PUEDEN LIBERAR PRODUCTOS</text><text x="709.5" y="324.8">TÓXICOS</text></g>
<g id="esenciales" class="m md"><rect x="497" y="473" width="62" height="15" fill="#f7d322"/><text x="500.5" y="479.6">METABOLITOS</text><text x="500.5" y="484.3">ESENCIALES/SECUNDARIOS</text></g>
<g id="y1" class="n y"><rect x="566" y="409.5" width="21" height="5"/><text x="576.5" y="413" textLength="18" lengthAdjust="spacingAndGlyphs">ESENCIALES</text></g>
<g id="y2" class="n y"><rect x="566" y="547.5" width="24" height="5"/><text x="578" y="551" textLength="21" lengthAdjust="spacingAndGlyphs">SECUNDARIOS</text></g>
<g id="y1a" class="n y"><rect x="593" y="409.5" width="21" height="5"/><text x="603.5" y="413" textLength="18" lengthAdjust="spacingAndGlyphs">FUNCIONES</text></g>
<g id="y1a1" class="n y"><rect x="621" y="379.5" width="24" height="5"/><text x="633" y="383" textLength="21" lengthAdjust="spacingAndGlyphs">ESTRUCTURAL</text></g>
<g id="y1a2" class="n y"><rect x="621" y="416.8" width="23" height="5"/><text x="632.5" y="420.3" textLength="20" lengthAdjust="spacingAndGlyphs">DE HORMONA</text></g>
<g id="y1a3" class="n y"><rect x="621" y="439.2" width="62" height="5"/><text x="652" y="442.7" textLength="59" lengthAdjust="spacingAndGlyphs">MODULAN ALGÚN PROCESO PRIMARIO</text></g>
<g id="y1a1a" class="n y"><rect x="652" y="363.5" width="35" height="5"/><text x="669.5" y="367" textLength="32" lengthAdjust="spacingAndGlyphs">CONSTITUYENTES DE</text></g>
<g id="y1a1b" class="n y"><rect x="652" y="395" width="58" height="5"/><text x="681" y="398.5" textLength="55" lengthAdjust="spacingAndGlyphs">ESTABILIZADORES DE ESTRUCTURAS</text></g>
<g id="c1" class="n y"><rect x="695" y="342" width="21" height="5"/><text x="705.5" y="345.5" textLength="18" lengthAdjust="spacingAndGlyphs">MEMBRANAS</text></g>
<g id="c2" class="n y"><rect x="695" y="363.5" width="36" height="5"/><text x="713" y="367" textLength="33" lengthAdjust="spacingAndGlyphs">PAREDES CELULARES</text></g>
<g id="c3" class="n y"><rect x="695" y="381.5" width="41" height="5"/><text x="715.5" y="385" textLength="38" lengthAdjust="spacingAndGlyphs">MOLÉCULAS ESENCIALES</text></g>
<g id="c1a" class="n y"><rect x="724" y="336.5" width="26" height="5"/><text x="737" y="340" textLength="23" lengthAdjust="spacingAndGlyphs">FITOESTEROLES</text></g>
<g id="c1b" class="n y"><rect x="724" y="345.5" width="23" height="5"/><text x="735.5" y="349" textLength="20" lengthAdjust="spacingAndGlyphs">TRITERPENOS</text></g>
<g id="c2a" class="n y"><rect x="736" y="354.5" width="15" height="5"/><text x="743.5" y="358" textLength="12" lengthAdjust="spacingAndGlyphs">LIGNINA</text></g>
<g id="c2b" class="n y"><rect x="736" y="363.5" width="16" height="5"/><text x="744" y="367" textLength="13" lengthAdjust="spacingAndGlyphs">TANINOS</text></g>
<g id="c2c" class="n y"><rect x="736" y="372.5" width="16" height="5"/><text x="744" y="376" textLength="13" lengthAdjust="spacingAndGlyphs">FENOLES</text></g>
<g id="c3a" class="n y"><rect x="742" y="381.5" width="22" height="5"/><text x="753" y="385" textLength="19" lengthAdjust="spacingAndGlyphs">CLOROFILAS</text></g>
<g id="e1" class="n y"><rect x="718" y="390.5" width="21" height="5"/><text x="728.5" y="394" textLength="18" lengthAdjust="spacingAndGlyphs">MEMBRANAS</text></g>
<g id="e2" class="n y"><rect x="718" y="399.5" width="40" height="5"/><text x="738" y="403" textLength="37" lengthAdjust="spacingAndGlyphs">MOLÉCULAS ESENCIALES</text></g>
<g id="e2a" class="n y"><rect x="766" y="399.5" width="8" height="5"/><text x="770" y="403" textLength="5.5" lengthAdjust="spacingAndGlyphs">ADN</text></g>
<g id="e2b" class="n y"><rect x="781" y="399.5" width="22" height="5"/><text x="792" y="403" textLength="19" lengthAdjust="spacingAndGlyphs">POLIAMINAS</text></g>
<g id="h1" class="n y"><rect x="652" y="407.5" width="30" height="5"/><text x="667" y="411" textLength="27" lengthAdjust="spacingAndGlyphs">ÁCIDO ABSCÍSICO</text></g>
<g id="h2" class="n y"><rect x="652" y="416.8" width="21" height="5"/><text x="662.5" y="420.3" textLength="18" lengthAdjust="spacingAndGlyphs">GIBERELINAS</text></g>
<g id="h3" class="n y"><rect x="652" y="425.8" width="25" height="5"/><text x="664.5" y="429.3" textLength="22" lengthAdjust="spacingAndGlyphs">BRASINÓLIDOS</text></g>
<g id="m1" class="n y"><rect x="690" y="439.2" width="23" height="5"/><text x="701.5" y="442.7" textLength="20" lengthAdjust="spacingAndGlyphs">FOTOSÍNTESIS</text></g>
<g id="m1a" class="n y"><rect x="721" y="435" width="26" height="5"/><text x="734" y="438.5" textLength="23" lengthAdjust="spacingAndGlyphs">CAROTENOIDES</text></g>
<g id="m1b" class="n y"><rect x="721" y="443.5" width="23" height="5"/><text x="732.5" y="447" textLength="20" lengthAdjust="spacingAndGlyphs">FLAVONOIDES</text></g>
<g id="y2a" class="n y"><rect x="598" y="519.5" width="37" height="5"/><text x="616.5" y="523" textLength="34" lengthAdjust="spacingAndGlyphs">FUNCIÓN DE RELACIÓN</text></g>
<g id="y2b" class="n y"><rect x="598" y="576.2" width="47" height="5"/><text x="621.5" y="579.7" textLength="44" lengthAdjust="spacingAndGlyphs">FUNCIÓN DE REPRODUCCIÓN</text></g>
<g id="d1" class="n y"><rect x="642" y="496.5" width="16" height="5"/><text x="650" y="500" textLength="13" lengthAdjust="spacingAndGlyphs">DEFENSA</text></g>
<g id="d1a" class="n y"><rect x="666" y="496.5" width="17" height="5"/><text x="674.5" y="500" textLength="14" lengthAdjust="spacingAndGlyphs">FRENTE A</text></g>
<g id="fh" class="n y"><rect x="690" y="474.5" width="22" height="5"/><text x="701" y="478" textLength="19" lengthAdjust="spacingAndGlyphs">HERBÍVOROS</text></g>
<g id="fm" class="n y"><rect x="690" y="505.5" width="33" height="5"/><text x="706.5" y="509" textLength="30" lengthAdjust="spacingAndGlyphs">MICROORGANISMOS</text></g>
<g id="fp" class="n y"><rect x="690" y="519.5" width="42" height="5"/><text x="711" y="523" textLength="39" lengthAdjust="spacingAndGlyphs">PLANTAS COMPETIDORAS</text></g>
<g id="fh1" class="n y"><rect x="719" y="452.8" width="21" height="5"/><text x="729.5" y="456.3" textLength="18" lengthAdjust="spacingAndGlyphs">ALCALOIDES</text></g>
<g id="fh2" class="n y"><rect x="719" y="461" width="48" height="5"/><text x="743" y="464.5" textLength="45" lengthAdjust="spacingAndGlyphs">GLUCÓSIDOS CIANOGÉNICOS</text></g>
<g id="fh3" class="n y"><rect x="719" y="470" width="16" height="5"/><text x="727" y="473.5" textLength="13" lengthAdjust="spacingAndGlyphs">FENOLES</text></g>
<g id="fh4" class="n y"><rect x="719" y="479" width="25" height="5"/><text x="731.5" y="482.5" textLength="22" lengthAdjust="spacingAndGlyphs">ISOPRENOIDES</text></g>
<g id="fh5" class="n y"><rect x="719" y="488.3" width="35" height="5"/><text x="736.5" y="491.8" textLength="32" lengthAdjust="spacingAndGlyphs">AMINAS AROMÁTICAS</text></g>
<g id="fh6" class="n y"><rect x="719" y="496.8" width="48" height="5"/><text x="743" y="500.3" textLength="45" lengthAdjust="spacingAndGlyphs">AMINOÁCIDOS NO PROTEICOS</text></g>
<g id="fm1" class="n y"><rect x="730" y="505.5" width="24" height="5"/><text x="742" y="509" textLength="21" lengthAdjust="spacingAndGlyphs">FITOALEXINAS</text></g>
<g id="fm1a" class="n y"><rect x="762" y="505.5" width="42" height="5"/><text x="783" y="509" textLength="39" lengthAdjust="spacingAndGlyphs">PRINCIPALMENTE FENOLES</text></g>
<g id="fp1" class="n y"><rect x="739" y="514.5" width="43" height="5"/><text x="760.5" y="518" textLength="40" lengthAdjust="spacingAndGlyphs">MONOTERPENO LIMONENO</text></g>
<g id="fp2" class="n y"><rect x="739" y="523.5" width="16" height="5"/><text x="747" y="527" textLength="13" lengthAdjust="spacingAndGlyphs">FENOLES</text></g>
<g id="fp2a" class="n y"><rect x="762" y="523.5" width="20" height="5"/><text x="772" y="527" textLength="17" lengthAdjust="spacingAndGlyphs">CUMARINAS</text></g>
<g id="co" class="n y"><rect x="642" y="540.5" width="26" height="5"/><text x="655" y="544" textLength="23" lengthAdjust="spacingAndGlyphs">COOPERACIÓN</text></g>
<g id="co1" class="n y"><rect x="675" y="540.5" width="17" height="5"/><text x="683.5" y="544" textLength="14" lengthAdjust="spacingAndGlyphs">SIMBIOSIS</text></g>
<g id="s1" class="n y"><rect x="698" y="532.5" width="40" height="5"/><text x="718" y="536" textLength="37" lengthAdjust="spacingAndGlyphs">HONGOS MICORRÍCICOS</text></g>
<g id="s2" class="n y"><rect x="698" y="541" width="62" height="5"/><text x="729" y="544.5" textLength="59" lengthAdjust="spacingAndGlyphs">BACTERIAS FIJADORAS DE NITRÓGENO</text></g>
<g id="s3" class="n y"><rect x="698" y="552.5" width="17" height="5"/><text x="706.5" y="556" textLength="14" lengthAdjust="spacingAndGlyphs">FENOLES</text></g>
<g id="s3a" class="n y"><rect x="722" y="552.5" width="24" height="5"/><text x="734" y="556" textLength="21" lengthAdjust="spacingAndGlyphs">FLAVONOIDES</text></g>
<g id="s3b" class="n l y"><rect x="752" y="550" width="70" height="10"/><text x="753.5" y="554.2" textLength="64" lengthAdjust="spacingAndGlyphs">ATRAEN MICROORGANISMOS QUE PUEDEN</text><text x="753.5" y="557.8">ESTABLECER SIMBIOSIS CON PLANTA</text></g>
<g id="rp1" class="n y"><rect x="652" y="563" width="24" height="5"/><text x="664" y="566.5" textLength="21" lengthAdjust="spacingAndGlyphs">POLINIZACIÓN</text></g>
<g id="rp2" class="n y"><rect x="652" y="576.5" width="45" height="5"/><text x="674.5" y="580" textLength="42" lengthAdjust="spacingAndGlyphs">PUEDEN COLOREAR FRUTOS</text></g>
<g id="rp3" class="n y"><rect x="652" y="598" width="27" height="5"/><text x="665.5" y="601.5" textLength="24" lengthAdjust="spacingAndGlyphs">EMITEN AROMAS</text></g>
<g id="rp1a" class="n y"><rect x="684" y="563" width="39" height="5"/><text x="703.5" y="566.5" textLength="36" lengthAdjust="spacingAndGlyphs">DISPERSIÓN DE SEMILLAS</text></g>
<g id="rp2a" class="n y"><rect x="705" y="572.5" width="16" height="5"/><text x="713" y="576" textLength="13" lengthAdjust="spacingAndGlyphs">FENOLES</text></g>
<g id="rp2b" class="n y"><rect x="705" y="580.8" width="26" height="5"/><text x="718" y="584.3" textLength="23" lengthAdjust="spacingAndGlyphs">CAROTENOIDES</text></g>
<g id="rp3a" class="n y"><rect x="687" y="589.5" width="24" height="5"/><text x="699" y="593" textLength="21" lengthAdjust="spacingAndGlyphs">ISOPRENOIDES</text></g>
<g id="rp3b" class="n y"><rect x="687" y="598" width="40" height="5"/><text x="707" y="601.5" textLength="36" lengthAdjust="spacingAndGlyphs">MONOSESQUITERPENOS</text></g>
<g id="rp3c" class="n y"><rect x="687" y="607.2" width="42" height="5"/><text x="708" y="610.7" textLength="39" lengthAdjust="spacingAndGlyphs">MONOAMINAS ALIFÁTICAS</text></g>
<text x="424" y="708" fill="#c9cad8" style="font-size:2.8px;text-anchor:middle">Prepared with xmind</text>
</svg>
